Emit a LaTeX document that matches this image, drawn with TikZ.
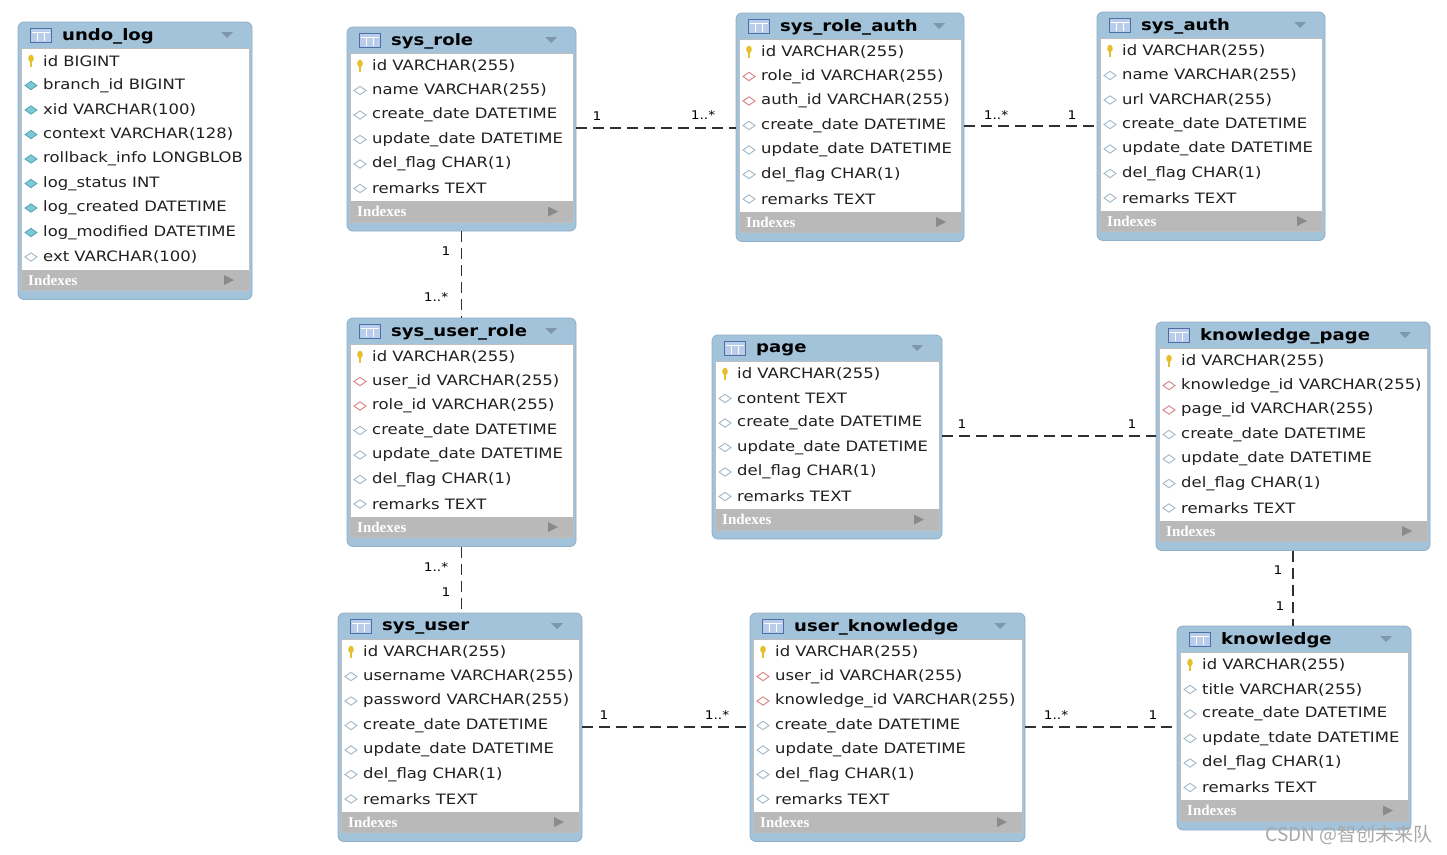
\documentclass[tikz,border=0pt]{standalone}
\usepackage{fontspec}
\setmainfont[FakeStretch=1.15]{DejaVu Sans}
\newfontfamily\cjkfont{Noto Sans CJK SC}
\newfontfamily\idxfont{Liberation Serif}
\definecolor{hdrblue}{HTML}{A3C3DB}
\definecolor{hdrline}{HTML}{8FAFC9}
\definecolor{bodyline}{HTML}{BEBEBE}
\definecolor{idxgray}{HTML}{B9B9B9}
\definecolor{icofill}{HTML}{B9CDEB}
\definecolor{icoline}{HTML}{4D6FA8}
\definecolor{tricol}{HTML}{7F97AE}
\definecolor{idxtri}{HTML}{8A8A8A}
\definecolor{keycol}{HTML}{E6C02A}
\definecolor{teala}{HTML}{7CC8D4}
\definecolor{tealb}{HTML}{4A9FB0}
\definecolor{hollowcol}{HTML}{9FB8C8}
\definecolor{fkcol}{HTML}{D98080}
\definecolor{rowcol}{HTML}{202020}
\definecolor{conncol}{HTML}{303030}
\definecolor{wmcol}{HTML}{A8A8A8}
\tikzset{
  tblframe/.style={rounded corners=6pt, fill=hdrblue, draw=hdrline, line width=0.8pt, inner sep=0pt, outer sep=0pt, anchor=north west},
  rowtxt/.style={anchor=west, inner sep=0pt, font=\fontsize{14.3}{16}\selectfont, text=rowcol},
  ttl/.style={anchor=west, inner sep=0pt, font=\fontsize{15.7}{18}\selectfont\bfseries, text=black},
  idx/.style={anchor=west, inner sep=0pt, font=\idxfont\bfseries\fontsize{15}{16}\selectfont, text=white},
  conn/.style={draw=conncol, line width=1.6pt, dash pattern=on 11pt off 6pt},
  mult/.style={font=\fontsize{12}{14}\selectfont, inner sep=0pt, text=black},
}
\newcommand\ericok[2]{%
  \fill[keycol] (#1,#2-2.5) ellipse (2.8pt and 3.8pt);
  \fill[keycol] (#1-1.4,#2-1) rectangle (#1+1.4,#2+5.5);}
\newcommand\ericof[2]{%
  \filldraw[fill=teala, draw=tealb, line width=0.7pt] (#1-6,#2) -- (#1,#2-4.2) -- (#1+6,#2) -- (#1,#2+4.2) -- cycle;}
\newcommand\ericoo[2]{%
  \filldraw[fill=white, draw=hollowcol, line width=0.9pt] (#1-6,#2) -- (#1,#2-4.2) -- (#1+6,#2) -- (#1,#2+4.2) -- cycle;}
\newcommand\ericor[2]{%
  \filldraw[fill=white, draw=fkcol, line width=0.9pt] (#1-6,#2) -- (#1,#2-4.2) -- (#1+6,#2) -- (#1,#2+4.2) -- cycle;}
% #1 name, #2 x, #3 y, #4 width, #5 title, #6 rows, #7 list
\newcommand\ertab[7]{%
  \pgfmathsetmacro\erh{57+24.5*#6}
  \node[tblframe, minimum width=#4pt, minimum height=\erh pt] (#1) at (#2,#3) {};
  \fill[white] (#2+3,#3+26) rectangle (#2+#4-3,#3+\erh-30);
  \fill[idxgray] (#2+3,#3+\erh-30) rectangle (#2+#4-3,#3+\erh-9);
  \draw[bodyline, line width=0.6pt] (#2+3,#3+26) rectangle (#2+#4-3,#3+\erh-9);
  \draw[icoline, fill=icofill, line width=1pt] (#2+12,#3+6) rectangle (#2+33,#3+20);
  \draw[white, line width=0.7pt] (#2+13.5,#3+10) -- (#2+31.5,#3+10) (#2+19,#3+10) -- (#2+19,#3+19) (#2+26,#3+10) -- (#2+26,#3+19);
  \node[ttl] (#1-title) at (#2+44,#3+14.5) {#5};
  \fill[tricol] (#2+#4-31,#3+10) -- (#2+#4-19,#3+10) -- (#2+#4-25,#3+16) -- cycle;
  \node[idx] (#1-idx) at (#2+10,#3+\erh-19.5) {Indexes};
  \fill[idxtri] (#2+#4-28,#3+\erh-24.5) -- (#2+#4-28,#3+\erh-14.5) -- (#2+#4-18,#3+\erh-19.5) -- cycle;
  \foreach \ertype/\ertext [count=\eri] in {#7} {
    \pgfmathsetmacro\ery{#3+39+(\eri-1)*24.5}
    \csname erico\ertype\endcsname{#2+13}{\ery}
    \node[rowtxt] (#1-r\eri) at (#2+25,\ery) {\ertext};
  }
}
\begin{document}
\begin{tikzpicture}[x=1pt,y=-1pt]
\useasboundingbox (0,0) rectangle (1447,854);
\fill[white] (0,0) rectangle (1447,854);

\ertab{undolog}{18}{22}{234}{undo\_log}{9}{k/id BIGINT, f/branch\_id BIGINT, f/xid VARCHAR(100), f/context VARCHAR(128), f/rollback\_info LONGBLOB, f/log\_status INT, f/log\_created DATETIME, f/log\_modified DATETIME, o/ext VARCHAR(100)}

\ertab{sysrole}{347}{27}{229}{sys\_role}{6}{k/id VARCHAR(255), o/name VARCHAR(255), o/create\_date DATETIME, o/update\_date DATETIME, o/del\_flag CHAR(1), o/remarks TEXT}

\ertab{sysroleauth}{736}{13}{228}{sys\_role\_auth}{7}{k/id VARCHAR(255), r/role\_id VARCHAR(255), r/auth\_id VARCHAR(255), o/create\_date DATETIME, o/update\_date DATETIME, o/del\_flag CHAR(1), o/remarks TEXT}

\ertab{sysauth}{1097}{12}{228}{sys\_auth}{7}{k/id VARCHAR(255), o/name VARCHAR(255), o/url VARCHAR(255), o/create\_date DATETIME, o/update\_date DATETIME, o/del\_flag CHAR(1), o/remarks TEXT}

\ertab{sysuserrole}{347}{318}{229}{sys\_user\_role}{7}{k/id VARCHAR(255), r/user\_id VARCHAR(255), r/role\_id VARCHAR(255), o/create\_date DATETIME, o/update\_date DATETIME, o/del\_flag CHAR(1), o/remarks TEXT}

\ertab{page}{712}{335}{230}{page}{6}{k/id VARCHAR(255), o/content TEXT, o/create\_date DATETIME, o/update\_date DATETIME, o/del\_flag CHAR(1), o/remarks TEXT}

\ertab{knowledgepage}{1156}{322}{274}{knowledge\_page}{7}{k/id VARCHAR(255), r/knowledge\_id VARCHAR(255), r/page\_id VARCHAR(255), o/create\_date DATETIME, o/update\_date DATETIME, o/del\_flag CHAR(1), o/remarks TEXT}

\ertab{sysuser}{338}{613}{244}{sys\_user}{7}{k/id VARCHAR(255), o/username VARCHAR(255), o/password VARCHAR(255), o/create\_date DATETIME, o/update\_date DATETIME, o/del\_flag CHAR(1), o/remarks TEXT}

\ertab{userknowledge}{750}{613}{275}{user\_knowledge}{7}{k/id VARCHAR(255), r/user\_id VARCHAR(255), r/knowledge\_id VARCHAR(255), o/create\_date DATETIME, o/update\_date DATETIME, o/del\_flag CHAR(1), o/remarks TEXT}

\ertab{knowledge}{1177}{626}{234}{knowledge}{6}{k/id VARCHAR(255), o/title VARCHAR(255), o/create\_date DATETIME, o/update\_tdate DATETIME, o/del\_flag CHAR(1), o/remarks TEXT}

% connector levels
\coordinate (hA) at (0,128);
\coordinate (hB) at (0,126);
\coordinate (hC) at (0,436);
\coordinate (hD) at (0,727);

\draw[conn] (sysrole.east |- hA) -- (sysroleauth.west |- hA);
\draw[conn] (sysroleauth.east |- hB) -- (sysauth.west |- hB);
\draw[conn] (sysrole.south) -- (sysuserrole.north);
\draw[conn] (sysuserrole.south) -- (sysuserrole.south |- sysuser.north);
\draw[conn] (page.east |- hC) -- (knowledgepage.west |- hC);
\draw[conn] (knowledgepage.south) -- (knowledgepage.south |- knowledge.north);
\draw[conn] (sysuser.east |- hD) -- (userknowledge.west |- hD);
\draw[conn] (userknowledge.east |- hD) -- (knowledge.west |- hD);

\node[mult] (m1) at (597,116) {1};
\node[mult] (m2) at (703,115) {1..*};
\node[mult] (m3) at (996,115) {1..*};
\node[mult] (m4) at (1072,115) {1};
\node[mult] (m5) at (446,251) {1};
\node[mult] (m6) at (436,297) {1..*};
\node[mult] (m7) at (436,567) {1..*};
\node[mult] (m8) at (446,592) {1};
\node[mult] (m9) at (962,424) {1};
\node[mult] (m10) at (1132,424) {1};
\node[mult] (m11) at (1278,570) {1};
\node[mult] (m12) at (1280,606) {1};
\node[mult] (m13) at (604,715) {1};
\node[mult] (m14) at (717,715) {1..*};
\node[mult] (m15) at (1056,715) {1..*};
\node[mult] (m16) at (1153,715) {1};

\node[anchor=east, inner sep=0pt, font=\cjkfont\fontsize{19}{20}\selectfont, text=wmcol] (wm) at (1433,835) {CSDN @智创未来队};
\end{tikzpicture}
\end{document}
